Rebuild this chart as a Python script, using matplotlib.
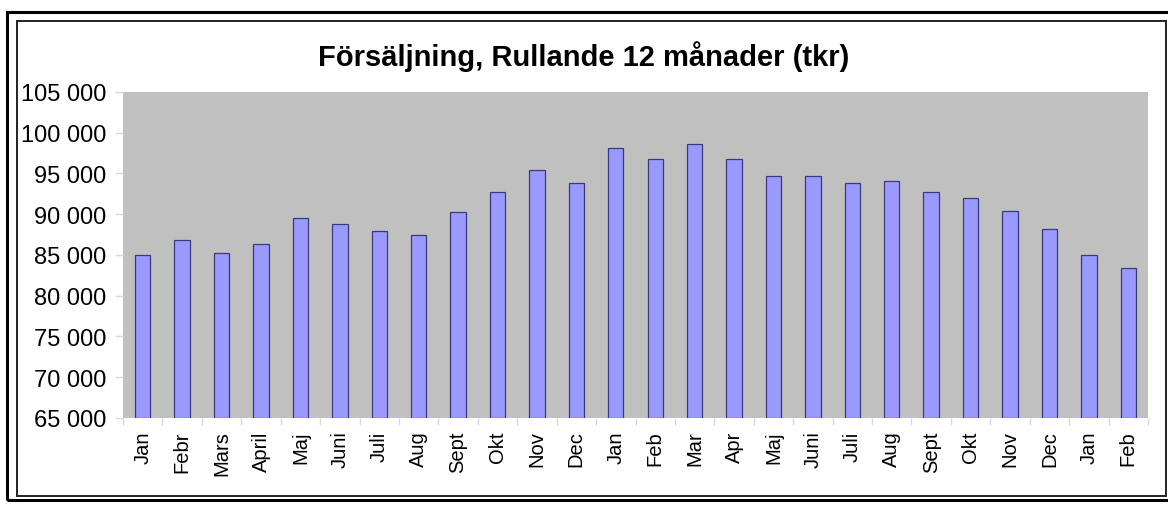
import matplotlib
matplotlib.use("Agg")
import matplotlib.pyplot as plt
from matplotlib.patches import Rectangle
from matplotlib.ticker import FuncFormatter, MultipleLocator, FixedLocator
import numpy as np

title = "Försäljning, Rullande 12 månader (tkr)"
months = ["Jan", "Febr", "Mars", "April", "Maj", "Juni", "Juli", "Aug", "Sept", "Okt", "Nov", "Dec",
          "Jan", "Feb", "Mar", "Apr", "Maj", "Juni", "Juli", "Aug", "Sept", "Okt", "Nov", "Dec",
          "Jan", "Feb"]
sales = [85000, 86800, 85250, 86350, 89550, 88850, 87950, 87500, 90250, 92700, 95450, 93850,
         98150, 96800, 98650, 96800, 94750, 94750, 93850, 94100, 92700, 92050, 90450, 88150,
         85000, 83400]
y_min, y_max, y_step = 65000, 105000, 5000

plt.rcParams['font.family'] = ['Liberation Sans', 'DejaVu Sans']

W, H = 1168, 506
fig = plt.figure(figsize=(W / 100, H / 100), dpi=100)
fig.patch.set_facecolor("white")

# double frame
fig.add_artist(Rectangle((7 / W, 1 - 501 / H), (1180 - 7) / W, (501 - 13) / H,
                         transform=fig.transFigure, fill=False, edgecolor="black", linewidth=2.2))
fig.add_artist(Rectangle((17 / W, 1 - 497 / H), (1166 - 17) / W, (497 - 22) / H,
                         transform=fig.transFigure, fill=False, edgecolor="#222222", linewidth=1.4))

left, right, top, bottom = 123, 1148, 93, 419
ax = fig.add_axes([left / W, 1 - bottom / H, (right - left) / W, (bottom - top) / H])
ax.set_facecolor("#C0C0C0")

x = np.arange(len(months))
ax.bar(x, np.array(sales) - y_min, bottom=y_min, width=0.39, color="#9999FF",
       edgecolor="#3A3A7A", linewidth=0.9, zorder=3)

ax.set_xlim(-0.5, len(months) - 0.5)
ax.set_ylim(y_min, y_max)
ax.yaxis.set_major_locator(MultipleLocator(y_step))
ax.yaxis.set_major_formatter(FuncFormatter(lambda v, p: f"{int(v):,}".replace(",", " ")))
ax.set_xticks(x)
ax.set_xticklabels(months, rotation=90, fontsize=14.5)
ax.xaxis.set_minor_locator(FixedLocator(np.arange(-0.5, len(months), 1.0)))
ax.tick_params(axis="x", which="major", length=0, pad=9)
ax.tick_params(axis="x", which="minor", length=5, color="#D8D8D8", width=1)
ax.tick_params(axis="y", length=6, color="#D8D8D8", width=1, labelsize=17, pad=6)

for s in ax.spines.values():
    s.set_visible(False)

fig.text(584 / W, 1 - 57 / H, title, ha="center", va="center", fontsize=21, fontweight="bold")

fig.savefig("out.png", dpi=100, facecolor="white")
